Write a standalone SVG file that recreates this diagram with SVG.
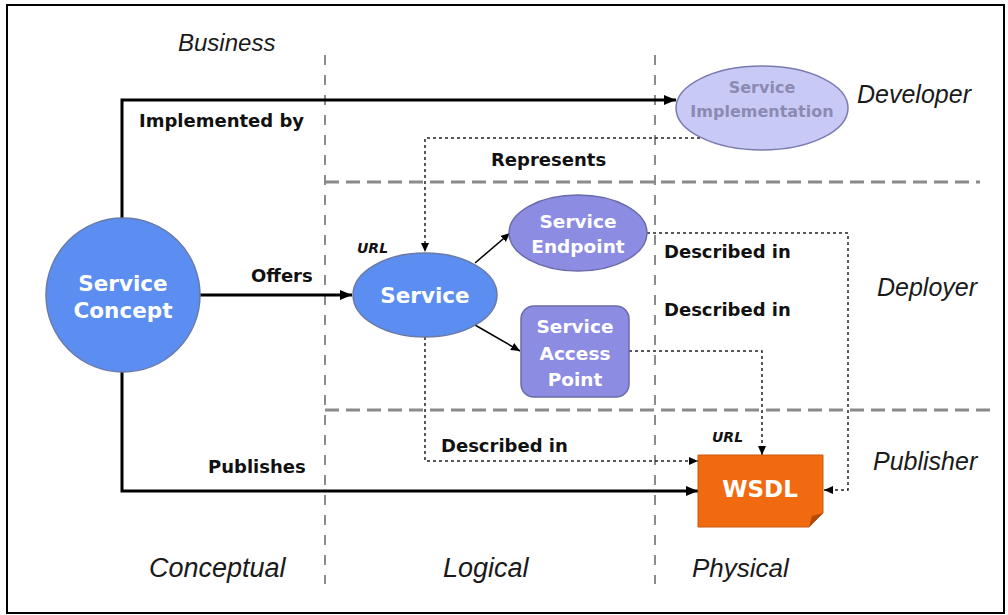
<svg xmlns="http://www.w3.org/2000/svg" width="1008" height="615" viewBox="0 0 1008 615">
  <defs>
    <marker id="arrowBold" markerUnits="userSpaceOnUse" markerWidth="12" markerHeight="10" refX="12" refY="5" orient="auto">
      <path d="M0,0 L12,5 L0,10 Z" fill="#000"/>
    </marker>
    <marker id="arrowThin" markerUnits="userSpaceOnUse" markerWidth="9" markerHeight="8" refX="9" refY="4" orient="auto">
      <path d="M0,0 L9,4 L0,8 Z" fill="#000"/>
    </marker>
  </defs>
  <style>
    .frame { fill: #fff; stroke: #000; stroke-width: 2; }
    .lane { stroke: #8a8a8a; fill: none; }
    .lane-v { stroke-width: 2; stroke-dasharray: 10 10; }
    .lane-h { stroke-width: 3; stroke-dasharray: 14 7; }
    .role { font-family: "Liberation Sans", Arial, sans-serif; font-style: italic; fill: #1a1a1a; }
    .label { font-family: "DejaVu Sans", Verdana, sans-serif; font-weight: bold; font-size: 18px; fill: #111; }
    .url { font-family: "DejaVu Sans", Verdana, sans-serif; font-weight: bold; font-style: italic; font-size: 14px; fill: #111; }
    .node-text { font-family: "DejaVu Sans", Verdana, sans-serif; font-weight: bold; fill: #fff; text-anchor: middle; }
    .strong { stroke: #000; stroke-width: 3; fill: none; }
    .thin { stroke: #000; stroke-width: 1.5; fill: none; }
    .dotted { stroke: #222; stroke-width: 1.5; stroke-dasharray: 3 3; fill: none; }
    .blue { fill: #5b8ef0; stroke: #6a7aa8; stroke-width: 1.5; }
    .violet { fill: #8c8ce2; stroke: #6a6aa8; stroke-width: 1.5; }
    .pale { fill: #c9c9f6; stroke: #7a7ab0; stroke-width: 1.5; }
  </style>

  <!-- outer frame -->
  <rect class="frame" x="7" y="5" width="997" height="608"/>

  <!-- swimlane separators -->
  <g id="lanes">
    <line class="lane lane-v" x1="325" y1="55" x2="325" y2="584"/>
    <line class="lane lane-v" x1="655" y1="55" x2="655" y2="584"/>
    <line class="lane lane-h" x1="325" y1="182" x2="980" y2="182"/>
    <line class="lane lane-h" x1="325" y1="410" x2="990" y2="410"/>
  </g>

  <!-- lane titles -->
  <g id="lane-titles">
    <text class="role" x="178" y="51" font-size="24">Business</text>
    <text class="role" x="857" y="103" font-size="25">Developer</text>
    <text class="role" x="877" y="296" font-size="25">Deployer</text>
    <text class="role" x="873" y="470" font-size="25">Publisher</text>
    <text class="role" x="149" y="577" font-size="27">Conceptual</text>
    <text class="role" x="443" y="577" font-size="27">Logical</text>
    <text class="role" x="692" y="577" font-size="26">Physical</text>
  </g>

  <!-- connectors -->
  <g id="connectors">
    <path class="strong" d="M122,218 V100 H676" marker-end="url(#arrowBold)"/>
    <path class="strong" d="M199,295 H352" marker-end="url(#arrowBold)"/>
    <path class="strong" d="M122,372 V491 H698" marker-end="url(#arrowBold)"/>
    <path class="dotted" d="M700,138 H425 V252" marker-end="url(#arrowThin)"/>
    <path class="thin" d="M475,263 L510,233" marker-end="url(#arrowThin)"/>
    <path class="thin" d="M475,325 L520,351" marker-end="url(#arrowThin)"/>
    <path class="dotted" d="M647,233 H848 V490 H824" marker-end="url(#arrowThin)"/>
    <path class="dotted" d="M629,351 H762 V455" marker-end="url(#arrowThin)"/>
    <path class="dotted" d="M425,337 V461 H698" marker-end="url(#arrowThin)"/>

    <text class="label" x="139" y="127">Implemented by</text>
    <text class="label" x="251" y="282">Offers</text>
    <text class="label" x="208" y="473">Publishes</text>
    <text class="label" x="491" y="166">Represents</text>
    <text class="label" x="664" y="258">Described in</text>
    <text class="label" x="664" y="316">Described in</text>
    <text class="label" x="441" y="452">Described in</text>
    <text class="url" x="357" y="253">URL</text>
    <text class="url" x="712" y="442">URL</text>
  </g>

  <!-- nodes -->
  <g id="service-concept">
    <circle class="blue" cx="123" cy="295" r="77"/>
    <text class="node-text" x="123" y="291" font-size="21.5">Service</text>
    <text class="node-text" x="123" y="318" font-size="21.5">Concept</text>
  </g>

  <g id="service">
    <ellipse class="blue" cx="425" cy="295" rx="72" ry="42"/>
    <text class="node-text" x="425" y="303" font-size="21.5">Service</text>
  </g>

  <g id="service-endpoint">
    <ellipse class="violet" cx="578" cy="233" rx="69" ry="38"/>
    <text class="node-text" x="578" y="228" font-size="18.5">Service</text>
    <text class="node-text" x="578" y="253" font-size="18.5">Endpoint</text>
  </g>

  <g id="service-access-point">
    <rect class="violet" x="521" y="306" width="108" height="91" rx="13" ry="13"/>
    <text class="node-text" x="575" y="333" font-size="18.5">Service</text>
    <text class="node-text" x="575" y="360" font-size="18.5">Access</text>
    <text class="node-text" x="575" y="386" font-size="18.5">Point</text>
  </g>

  <g id="service-implementation">
    <ellipse class="pale" cx="762" cy="108" rx="86" ry="42"/>
    <text class="node-text" x="762" y="93" font-size="16" style="fill:#8a8ab2">Service</text>
    <text class="node-text" x="762" y="117" font-size="16" style="fill:#8a8ab2">Implementation</text>
  </g>

  <g id="wsdl">
    <path d="M698,455 H823 V513 L809,527 H698 Z" fill="#f26a10" stroke="#c85a10" stroke-width="1"/>
    <path d="M823,513 L809,527 L812,516 Z" fill="#b44a08"/>
    <text class="node-text" x="760" y="497" font-size="23">WSDL</text>
  </g>
</svg>
